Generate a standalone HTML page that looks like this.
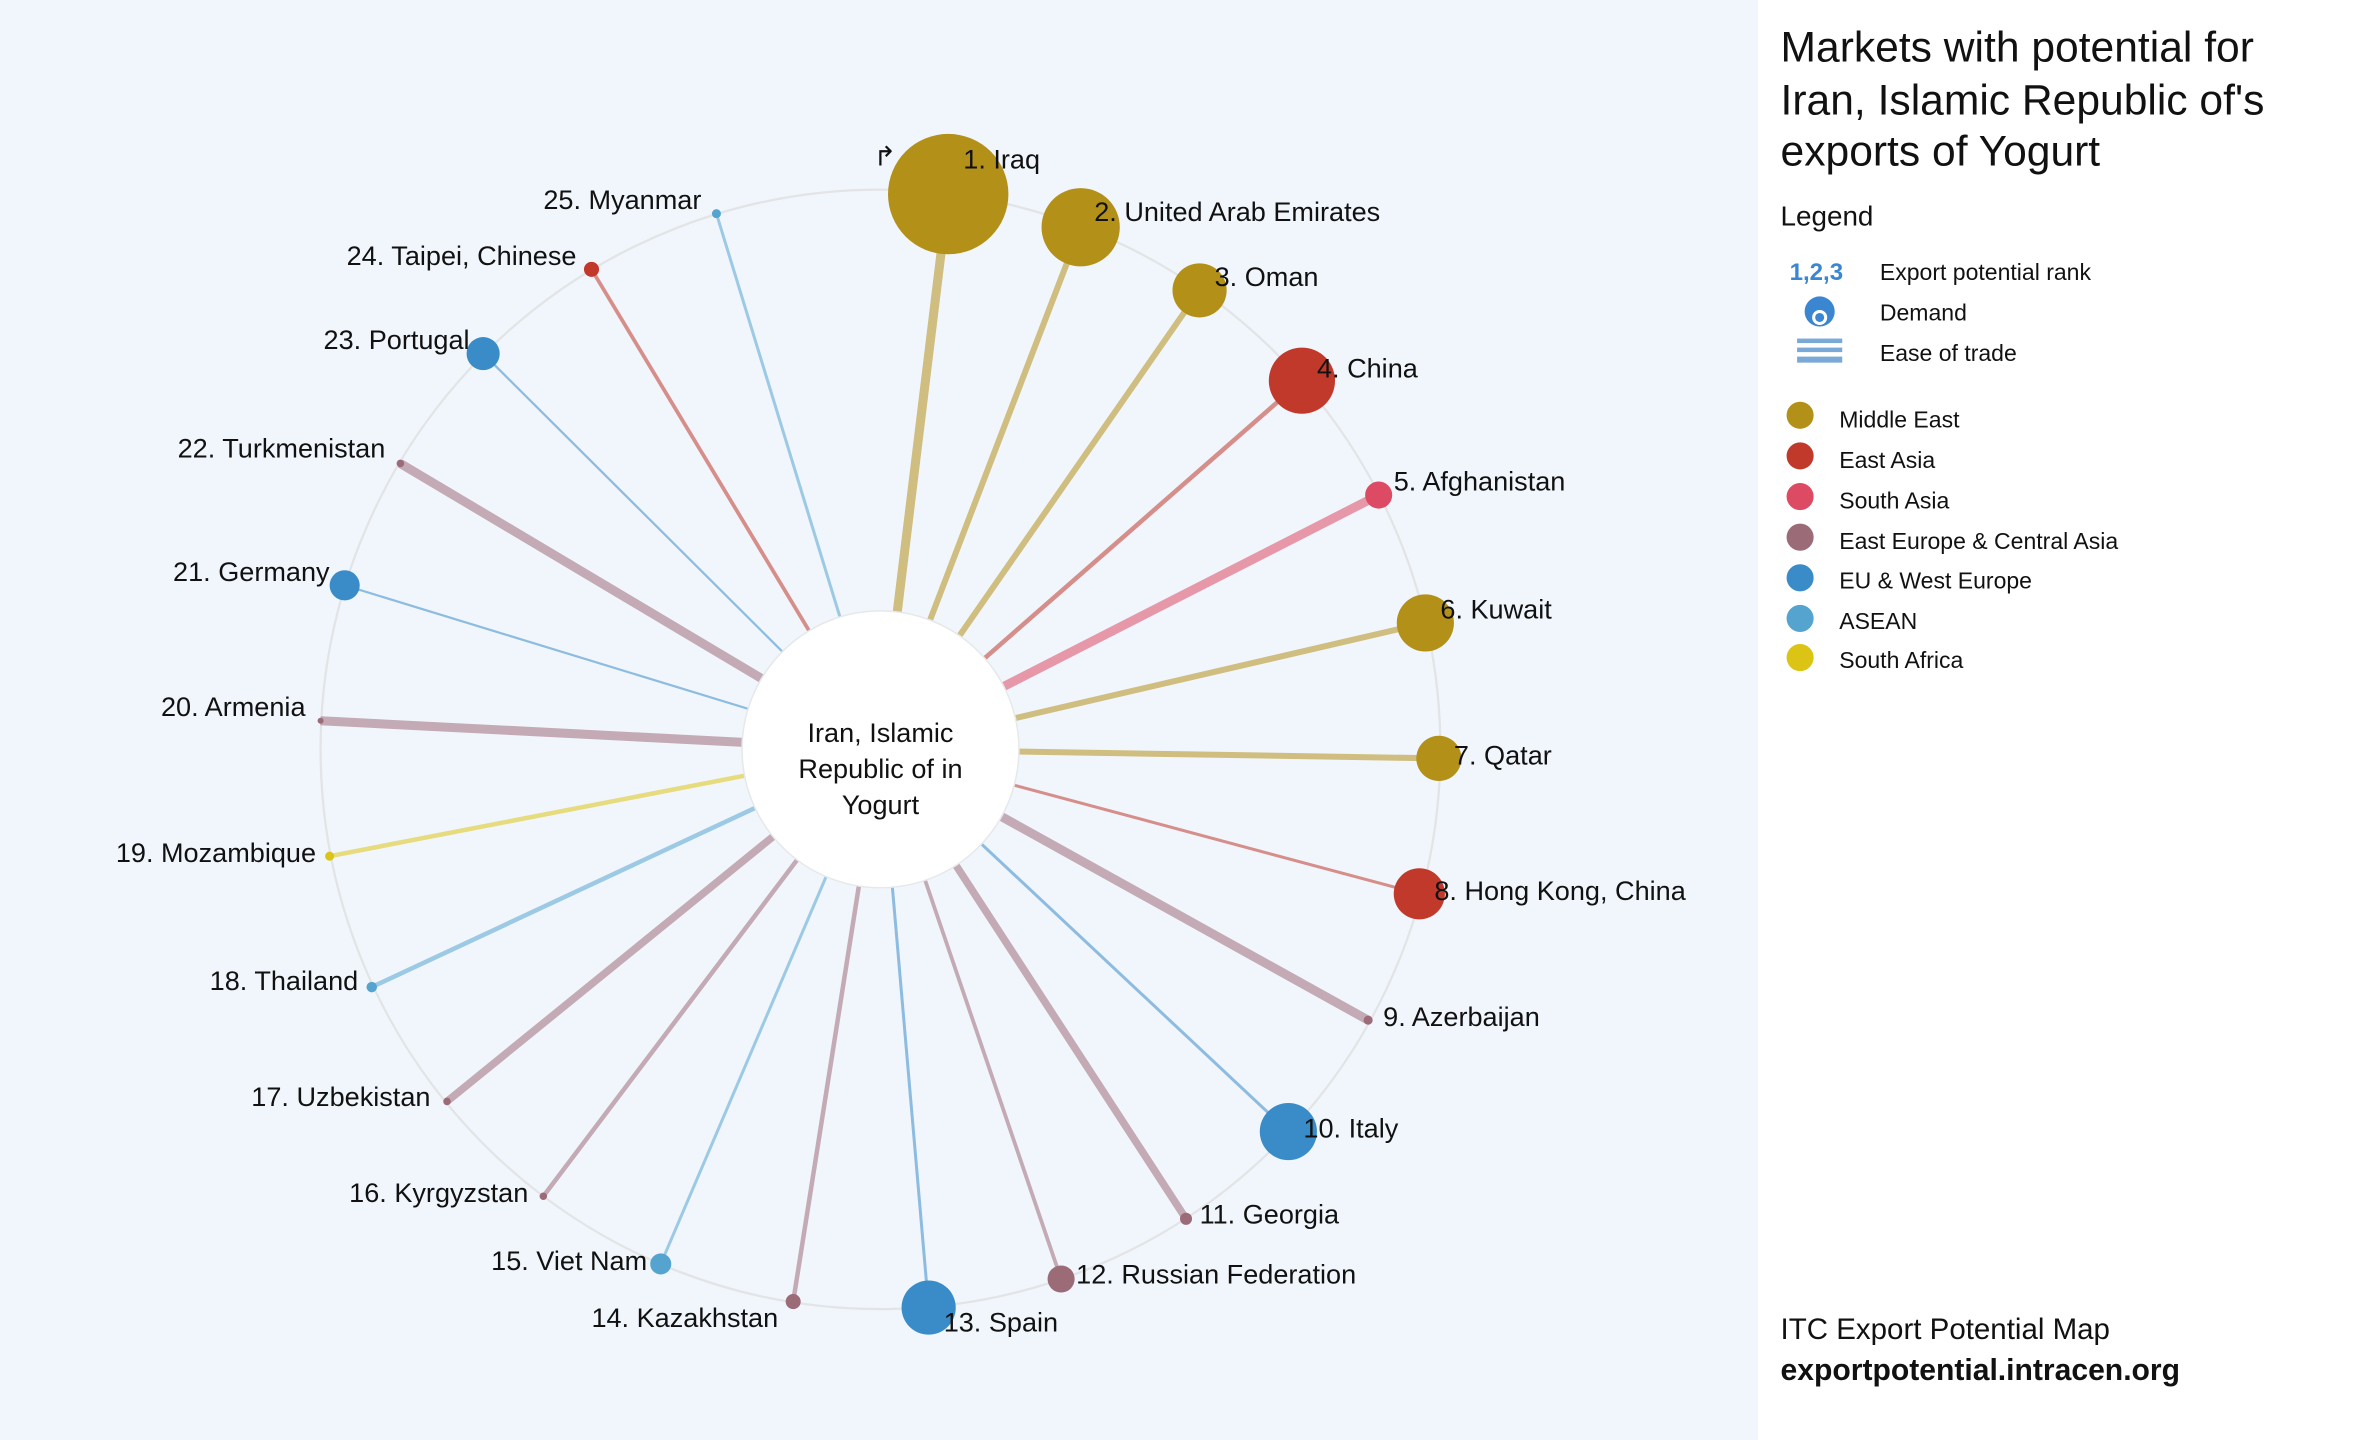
<!DOCTYPE html>
<html><head><meta charset="utf-8"><style>
html,body{margin:0;padding:0;background:#fff;}
svg{display:block;}
text{font-family:"Liberation Sans",sans-serif;fill:#111;}
</style></head><body>
<svg width="2360" height="1440" viewBox="0 0 1568 957" preserveAspectRatio="none" xmlns="http://www.w3.org/2000/svg">
<rect x="0" y="0" width="1168" height="957" fill="#f1f6fc"/>
<rect x="1168" y="0" width="400" height="957" fill="#ffffff"/>
<circle cx="585" cy="498" r="372" fill="none" stroke="#e2e4e6" stroke-width="1.5"/>
<g stroke-linecap="butt" stroke-opacity="0.55">
<line x1="585" y1="498" x2="630" y2="129" stroke="#b39018" stroke-width="6"/>
<line x1="585" y1="498" x2="718" y2="151" stroke="#b39018" stroke-width="4"/>
<line x1="585" y1="498" x2="797" y2="193" stroke="#b39018" stroke-width="4"/>
<line x1="585" y1="498" x2="865" y2="253" stroke="#c0392b" stroke-width="3"/>
<line x1="585" y1="498" x2="916" y2="329" stroke="#dc4a64" stroke-width="6"/>
<line x1="585" y1="498" x2="947" y2="414" stroke="#b39018" stroke-width="4"/>
<line x1="585" y1="498" x2="956" y2="504" stroke="#b39018" stroke-width="4"/>
<line x1="585" y1="498" x2="943" y2="594" stroke="#c0392b" stroke-width="2"/>
<line x1="585" y1="498" x2="909" y2="678" stroke="#9c6b78" stroke-width="6"/>
<line x1="585" y1="498" x2="856" y2="752" stroke="#3a8cc8" stroke-width="2"/>
<line x1="585" y1="498" x2="788" y2="810" stroke="#9c6b78" stroke-width="5"/>
<line x1="585" y1="498" x2="705" y2="850" stroke="#9c6b78" stroke-width="2.5"/>
<line x1="585" y1="498" x2="617" y2="869" stroke="#3a8cc8" stroke-width="2"/>
<line x1="585" y1="498" x2="527" y2="865" stroke="#9c6b78" stroke-width="3"/>
<line x1="585" y1="498" x2="439" y2="840" stroke="#55a4cf" stroke-width="2"/>
<line x1="585" y1="498" x2="361" y2="795" stroke="#9c6b78" stroke-width="3"/>
<line x1="585" y1="498" x2="297" y2="732" stroke="#9c6b78" stroke-width="5"/>
<line x1="585" y1="498" x2="247" y2="656" stroke="#55a4cf" stroke-width="3"/>
<line x1="585" y1="498" x2="219" y2="569" stroke="#dcc414" stroke-width="3"/>
<line x1="585" y1="498" x2="213" y2="479" stroke="#9c6b78" stroke-width="6"/>
<line x1="585" y1="498" x2="229" y2="389" stroke="#3a8cc8" stroke-width="1.5"/>
<line x1="585" y1="498" x2="266" y2="308" stroke="#9c6b78" stroke-width="6"/>
<line x1="585" y1="498" x2="321" y2="235" stroke="#3a8cc8" stroke-width="1.5"/>
<line x1="585" y1="498" x2="393" y2="179" stroke="#c0392b" stroke-width="2.5"/>
<line x1="585" y1="498" x2="476" y2="142" stroke="#55a4cf" stroke-width="2"/>
</g>
<circle cx="585" cy="498" r="92" fill="#fff" stroke="#e6e8ea" stroke-width="1"/>
<g>
<circle cx="630" cy="129" r="40" fill="#b39018"/>
<circle cx="718" cy="151" r="26" fill="#b39018"/>
<circle cx="797" cy="193" r="18" fill="#b39018"/>
<circle cx="865" cy="253" r="22" fill="#c0392b"/>
<circle cx="916" cy="329" r="9" fill="#dc4a64"/>
<circle cx="947" cy="414" r="19" fill="#b39018"/>
<circle cx="956" cy="504" r="15" fill="#b39018"/>
<circle cx="943" cy="594" r="17" fill="#c0392b"/>
<circle cx="909" cy="678" r="3" fill="#9c6b78"/>
<circle cx="856" cy="752" r="19" fill="#3a8cc8"/>
<circle cx="788" cy="810" r="4" fill="#9c6b78"/>
<circle cx="705" cy="850" r="9" fill="#9c6b78"/>
<circle cx="617" cy="869" r="18" fill="#3a8cc8"/>
<circle cx="527" cy="865" r="5" fill="#9c6b78"/>
<circle cx="439" cy="840" r="7" fill="#55a4cf"/>
<circle cx="361" cy="795" r="2.5" fill="#9c6b78"/>
<circle cx="297" cy="732" r="2.5" fill="#9c6b78"/>
<circle cx="247" cy="656" r="3.5" fill="#55a4cf"/>
<circle cx="219" cy="569" r="3" fill="#dcc414"/>
<circle cx="213" cy="479" r="2" fill="#9c6b78"/>
<circle cx="229" cy="389" r="10" fill="#3a8cc8"/>
<circle cx="266" cy="308" r="2.5" fill="#9c6b78"/>
<circle cx="321" cy="235" r="11" fill="#3a8cc8"/>
<circle cx="393" cy="179" r="5" fill="#c0392b"/>
<circle cx="476" cy="142" r="3" fill="#55a4cf"/>
</g>
<g font-size="18">
<text x="640" y="112">1. Iraq</text>
<text x="727" y="147">2. United Arab Emirates</text>
<text x="807" y="190">3. Oman</text>
<text x="875" y="251">4. China</text>
<text x="926" y="326">5. Afghanistan</text>
<text x="957" y="411">6. Kuwait</text>
<text x="966" y="508">7. Qatar</text>
<text x="953" y="598">8. Hong Kong, China</text>
<text x="919" y="682">9. Azerbaijan</text>
<text x="866" y="756">10. Italy</text>
<text x="797" y="813">11. Georgia</text>
<text x="715" y="853">12. Russian Federation</text>
<text x="627" y="885">13. Spain</text>
<g text-anchor="end">
<text x="517" y="882">14. Kazakhstan</text>
<text x="430" y="844">15. Viet Nam</text>
<text x="351" y="799">16. Kyrgyzstan</text>
<text x="286" y="735">17. Uzbekistan</text>
<text x="238" y="658">18. Thailand</text>
<text x="210" y="573">19. Mozambique</text>
<text x="203" y="476">20. Armenia</text>
<text x="219" y="386">21. Germany</text>
<text x="256" y="304">22. Turkmenistan</text>
<text x="312" y="232">23. Portugal</text>
<text x="383" y="176">24. Taipei, Chinese</text>
<text x="466" y="139">25. Myanmar</text>
</g>
<text x="588" y="110" text-anchor="middle" font-size="18">↱</text>
<g text-anchor="middle">
<text x="585" y="493">Iran, Islamic</text>
<text x="585" y="517">Republic of in</text>
<text x="585" y="541">Yogurt</text>
</g>
</g>
<g>
<text x="1183" y="41" font-size="28.3">Markets with potential for</text>
<text x="1183" y="76" font-size="28.3">Iran, Islamic Republic of's</text>
<text x="1183" y="110" font-size="28.3">exports of Yogurt</text>
<text x="1183" y="150" font-size="18.5">Legend</text>
<text x="1189" y="186" font-size="16" font-weight="bold" style="fill:#3a86d0">1,2,3</text>
<g font-size="15.3">
<text x="1249" y="186">Export potential rank</text>
<text x="1249" y="213">Demand</text>
<text x="1249" y="240">Ease of trade</text>
</g>
<circle cx="1209" cy="207" r="10" fill="#3a86d0"/>
<circle cx="1209" cy="211" r="5" fill="#fff"/>
<circle cx="1209" cy="211" r="3" fill="#3a86d0"/>
<rect x="1194" y="225" width="30" height="3" fill="#7aa9d8"/>
<rect x="1194" y="231" width="30" height="3" fill="#7aa9d8"/>
<rect x="1194" y="237" width="30" height="4" fill="#7aa9d8"/>
<circle cx="1196" cy="276" r="9" fill="#b39018"/>
<circle cx="1196" cy="303" r="9" fill="#c0392b"/>
<circle cx="1196" cy="330" r="9" fill="#dc4a64"/>
<circle cx="1196" cy="357" r="9" fill="#9c6b78"/>
<circle cx="1196" cy="384" r="9" fill="#3a8cc8"/>
<circle cx="1196" cy="411" r="9" fill="#55a4cf"/>
<circle cx="1196" cy="437" r="9" fill="#dcc414"/>
<g font-size="15.3">
<text x="1222" y="284">Middle East</text>
<text x="1222" y="311">East Asia</text>
<text x="1222" y="338">South Asia</text>
<text x="1222" y="365">East Europe &amp; Central Asia</text>
<text x="1222" y="391">EU &amp; West Europe</text>
<text x="1222" y="418">ASEAN</text>
<text x="1222" y="444">South Africa</text>
</g>
<text x="1183" y="890" font-size="19.6">ITC Export Potential Map</text>
<text x="1183" y="917" font-size="20" font-weight="bold">exportpotential.intracen.org</text>
</g>
</svg>
</body></html>
